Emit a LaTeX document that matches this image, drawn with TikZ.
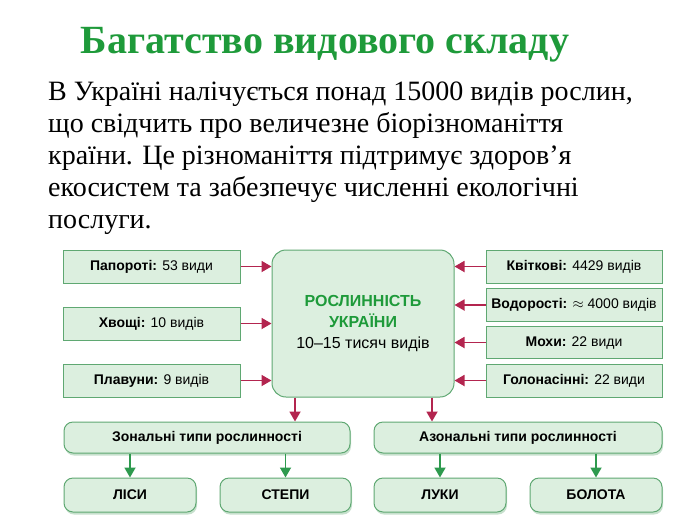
\documentclass[tikz,border=0pt]{standalone}
\usepackage{fontspec}
\setmainfont{Liberation Serif}
\newfontfamily\diagfont{Liberation Sans}
\usetikzlibrary{positioning,arrows.meta,shadows}
\definecolor{boxfill}{HTML}{DCEFDF}
\definecolor{boxline}{HTML}{5FA872}
\definecolor{titlegreen}{HTML}{1E9A3A}
\definecolor{arrred}{HTML}{B3254F}
\definecolor{arrgreen}{HTML}{2E9A4E}
\tikzset{
    plain/.style={draw=boxline, fill=boxfill, line width=1pt, font=\diagfont\fontsize{14}{16}\selectfont},
    rnd/.style={plain, rounded corners=9pt, drop shadow={shadow xshift=1pt, shadow yshift=-2.5pt, fill=boxline!70}},
    redarr/.style={draw=arrred, line width=1.8pt, -{Triangle[length=10pt,width=11pt]}},
    greenarr/.style={draw=arrgreen, line width=1.8pt, -{Triangle[length=10pt,width=11pt]}}
}
\begin{document}
\begin{tikzpicture}[x=1pt,y=-1pt]
        \useasboundingbox (0,0) rectangle (700,525);
        \node[font=\bfseries\fontsize{40}{44}\selectfont, text=titlegreen] (title) at (325,45) {Багатство видового складу};
        \node[anchor=north west, align=left, font=\fontsize{28}{32}\selectfont, inner sep=0pt] (text) at (48,82)
            {В Україні налічується понад 15000 видів рослин,\\
             що свідчить про величезне біорізноманіття\\
             країни. Це різноманіття підтримує здоров'я\\
             екосистем та забезпечує численні екологічні\\
             послуги.};
        % left boxes
        \node[plain, minimum width=177, minimum height=33] (pap) at (151.5,266.5) {\textbf{Папороті:} 53 види};
        \node[plain, minimum width=177, minimum height=33] (khv) at (151.5,323.5) {\textbf{Хвощі:} 10 видів};
        \node[plain, minimum width=177, minimum height=33] (plv) at (151.5,380.5) {\textbf{Плавуни:} 9 видів};
        % right boxes
        \node[plain, minimum width=176, minimum height=33] (kvi) at (574,266.5) {\textbf{Квіткові:} 4429 видів};
        \node[plain, minimum width=176, minimum height=33] (vod) at (574,305) {\textbf{Водорості:} $\approx$ 4000 видів};
        \node[plain, minimum width=176, minimum height=32] (mok) at (574,342.5) {\textbf{Мохи:} 22 види};
        \node[plain, minimum width=176, minimum height=33] (hol) at (574,380.5) {\textbf{Голонасінні:} 22 види};
        % centre
        \node[plain, rounded corners=14pt, minimum width=182, minimum height=147, align=center, font=\diagfont\fontsize{16}{21}\selectfont] (ukr) at (363,323.5)
            {\textcolor{titlegreen}{\textbf{РОСЛИННІСТЬ}}\\\textcolor{titlegreen}{\textbf{УКРАЇНИ}}\\10–15 тисяч видів};
        \foreach \n in {pap,khv,plv}
            \draw[redarr] (\n.east) -- (\n.east -| ukr.west);
        \foreach \n in {kvi,vod,mok,hol}
            \draw[redarr] (\n.west) -- (\n.west -| ukr.east);
        % types
        \node[rnd, minimum width=286, minimum height=31] (zon) at (207,437.5) {\textbf{Зональні типи рослинності}};
        \node[rnd, minimum width=288, minimum height=31] (azon) at (518,437.5) {\textbf{Азональні типи рослинності}};
        \coordinate (z1) at (295,0);
        \coordinate (z2) at (432,0);
        \draw[redarr] (ukr.south -| z1) -- (zon.north -| z1);
        \draw[redarr] (ukr.south -| z2) -- (azon.north -| z2);
        % bottom row
        \node[rnd, minimum width=132, minimum height=34] (lis) at (130,495) {\textbf{ЛІСИ}};
        \node[rnd, minimum width=131, minimum height=34] (ste) at (285.5,495) {\textbf{СТЕПИ}};
        \node[rnd, minimum width=132, minimum height=34] (luk) at (440,495) {\textbf{ЛУКИ}};
        \node[rnd, minimum width=132, minimum height=34] (bol) at (596,495) {\textbf{БОЛОТА}};
        \foreach \a/\b in {zon/lis,zon/ste,azon/luk,azon/bol}
            \draw[greenarr] (\a.south -| \b) -- (\b.north);
\end{tikzpicture}
\end{document}
